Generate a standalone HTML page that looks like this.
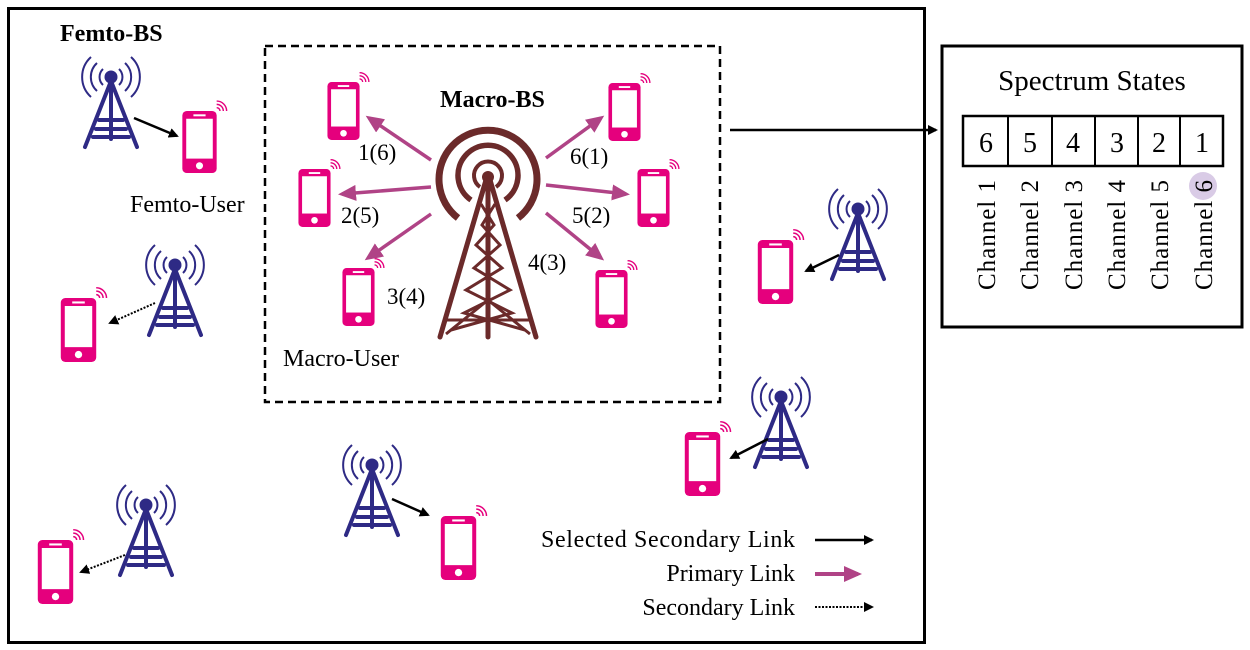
<!DOCTYPE html>
<html><head><meta charset="utf-8"><style>
html,body{margin:0;padding:0;background:#fff;}
svg{display:block;font-family:"Liberation Serif",serif;}
</style></head><body>
<svg width="1250" height="650" viewBox="0 0 1250 650" xmlns="http://www.w3.org/2000/svg">
<defs>
<symbol id="ph" viewBox="0 0 31 56" overflow="visible">
  <rect x="0" y="0" width="31" height="56" rx="4" fill="#e5007d"/>
  <rect x="3.5" y="7" width="24" height="36" fill="#fff"/>
  <rect x="10" y="3" width="11" height="1.8" fill="#fff"/>
  <circle cx="15.5" cy="49.5" r="3.2" fill="#fff"/>
  <g fill="none" stroke="#e5007d" stroke-width="1.3">
    <path d="M31 -3 a3 3 0 0 1 3 3"/><path d="M31 -6 a6 6 0 0 1 6 6"/><path d="M31 -9 a9 9 0 0 1 9 9"/>
  </g>
</symbol>
<symbol id="ft" viewBox="0 0 58 95" overflow="visible">
  <g fill="none" stroke="#2e2a85" stroke-width="2">
    <path d="M21 14 a11 11 0 0 0 0 16"/><path d="M37 14 a11 11 0 0 1 0 16"/>
    <path d="M15 8 a19 19 0 0 0 0 28"/><path d="M43 8 a19 19 0 0 1 0 28"/>
    <path d="M9 2 a27 27 0 0 0 0 40"/><path d="M49 2 a27 27 0 0 1 0 40"/>
  </g>
  <circle cx="29" cy="22" r="6.5" fill="#2e2a85"/>
  <g stroke="#2e2a85" stroke-width="4" fill="none" stroke-linecap="round">
    <path d="M29 26 L3 92"/><path d="M29 26 L55 92"/><path d="M29 26 L29 84"/>
    <path d="M17 65 L41 65"/><path d="M14 74 L44 74"/><path d="M11 82 L47 82"/>
  </g>
</symbol>
<marker id="ab" markerWidth="10" markerHeight="10" refX="8" refY="5" orient="auto" markerUnits="userSpaceOnUse"><path d="M0 0 L10 5 L0 10 Z" fill="#000"/></marker>
<marker id="ap" markerWidth="18" markerHeight="16" refX="14" refY="8" orient="auto" markerUnits="userSpaceOnUse"><path d="M0 0 L18 8 L0 16 Z" fill="#b04386"/></marker>
</defs>

<rect x="8.5" y="8.5" width="916" height="634" fill="none" stroke="#000" stroke-width="3"/>
<rect x="265" y="46" width="455" height="356" fill="none" stroke="#000" stroke-width="2.5" stroke-dasharray="8,5"/>
<rect x="942" y="46" width="300" height="281" fill="none" stroke="#000" stroke-width="3"/>

<text x="60" y="41" font-size="24" font-weight="bold">Femto-BS</text>
<text x="440" y="107" font-size="24" font-weight="bold">Macro-BS</text>
<text x="130" y="212" font-size="24">Femto-User</text>
<text x="283" y="366" font-size="24">Macro-User</text>

<!-- femto towers -->
<use href="#ft" x="82" y="55" width="58" height="95"/>
<use href="#ft" x="146" y="243" width="58" height="95"/>
<use href="#ft" x="117" y="483" width="58" height="95"/>
<use href="#ft" x="343" y="443" width="58" height="95"/>
<use href="#ft" x="752" y="375" width="58" height="95"/>
<use href="#ft" x="829" y="187" width="58" height="95"/>

<!-- phones -->
<use href="#ph" x="181" y="111" width="37" height="62"/>
<use href="#ph" x="326" y="82" width="35" height="58"/>
<use href="#ph" x="297" y="169" width="35" height="58"/>
<use href="#ph" x="341" y="268" width="35" height="58"/>
<use href="#ph" x="607" y="83" width="35" height="58"/>
<use href="#ph" x="636" y="169" width="35" height="58"/>
<use href="#ph" x="594" y="270" width="35" height="58"/>
<use href="#ph" x="757" y="240" width="37" height="64"/>
<use href="#ph" x="60" y="298" width="37" height="64"/>
<use href="#ph" x="37" y="540" width="37" height="64"/>
<use href="#ph" x="440" y="516" width="37" height="64"/>
<use href="#ph" x="684" y="432" width="37" height="64"/>

<!-- macro tower -->
<g fill="none" stroke="#6b2a2a" stroke-linecap="butt">
  <path d="M458 218 A49 49 0 1 1 518 218" stroke-width="7"/>
  <path d="M471 200 A30 30 0 1 1 505 200" stroke-width="5.5"/>
  <path d="M480 187 A14 14 0 1 1 496 187" stroke-width="4"/>
</g>
<circle cx="488" cy="177" r="6" fill="#6b2a2a"/>
<g stroke="#6b2a2a" stroke-width="5" fill="none" stroke-linecap="round" stroke-linejoin="round">
  <path d="M486 180 L440 337"/><path d="M490 180 L536 337"/>
  <path d="M488 180 L488 337"/>
</g>
<g stroke="#6b2a2a" stroke-width="3" fill="none">
  <path d="M481 204 L494 225 L476 245 L502 268 L466 290 L512 313 L451 330"/>
  <path d="M495 204 L482 225 L500 245 L474 268 L510 290 L464 313 L525 330"/>
  <path d="M445 320 L531 320"/>
  <path d="M488 300 L446 334 M488 300 L530 334"/>
</g>

<!-- primary links -->
<g stroke="#b04386" stroke-width="3.5" fill="none" marker-end="url(#ap)">
  <path d="M431 160 L369 118"/>
  <path d="M431 187 L342 194"/>
  <path d="M431 214 L368 258"/>
  <path d="M546 158 L601 118"/>
  <path d="M546 185 L626 194"/>
  <path d="M546 213 L601 258"/>
</g>
<g font-size="23">
  <text x="358" y="160">1(6)</text>
  <text x="341" y="223">2(5)</text>
  <text x="387" y="304">3(4)</text>
  <text x="570" y="164">6(1)</text>
  <text x="572" y="223">5(2)</text>
  <text x="528" y="270">4(3)</text>
</g>

<!-- secondary links -->
<g stroke="#000" stroke-width="2.5" fill="none" marker-end="url(#ab)">
  <path d="M134 118 L177 136"/>
  <path d="M392 499 L428 515"/>
  <path d="M768 439 L731 458"/>
  <path d="M839 255 L806 271"/>
  <path d="M730 130 L936 130"/>
  <path d="M815 540 L872 540"/>
</g>
<g stroke="#000" stroke-width="2" stroke-dasharray="2,1.5" fill="none" marker-end="url(#ab)">
  <path d="M155 303 L110 323"/>
  <path d="M125 555 L81 572"/>
  <path d="M815 607 L872 607"/>
</g>
<path d="M815 574 L858 574" stroke="#b04386" stroke-width="4" marker-end="url(#ap)"/>

<g font-size="24" text-anchor="end">
  <text x="795" y="547" textLength="254">Selected Secondary Link</text>
  <text x="795" y="581">Primary Link</text>
  <text x="795" y="615">Secondary Link</text>
</g>

<!-- spectrum -->
<text x="1092" y="90" font-size="29" text-anchor="middle">Spectrum States</text>
<rect x="963" y="116" width="260" height="50" fill="none" stroke="#000" stroke-width="2.5"/>
<g stroke="#000" stroke-width="2">
  <path d="M1008 116V166M1052 116V166M1095 116V166M1138 116V166M1180 116V166"/>
</g>
<g font-size="28" text-anchor="middle">
  <text x="986" y="152">6</text><text x="1030" y="152">5</text><text x="1073" y="152">4</text>
  <text x="1117" y="152">3</text><text x="1159" y="152">2</text><text x="1202" y="152">1</text>
</g>
<circle cx="1203" cy="186" r="14" fill="#d9cbe6"/>
<g font-size="25">
  <text transform="translate(995,290) rotate(-90)" textLength="110">Channel 1</text>
  <text transform="translate(1038,290) rotate(-90)" textLength="110">Channel 2</text>
  <text transform="translate(1082,290) rotate(-90)" textLength="110">Channel 3</text>
  <text transform="translate(1125,290) rotate(-90)" textLength="110">Channel 4</text>
  <text transform="translate(1168,290) rotate(-90)" textLength="110">Channel 5</text>
  <text transform="translate(1212,290) rotate(-90)" textLength="110">Channel 6</text>
</g>
</svg>
</body></html>
